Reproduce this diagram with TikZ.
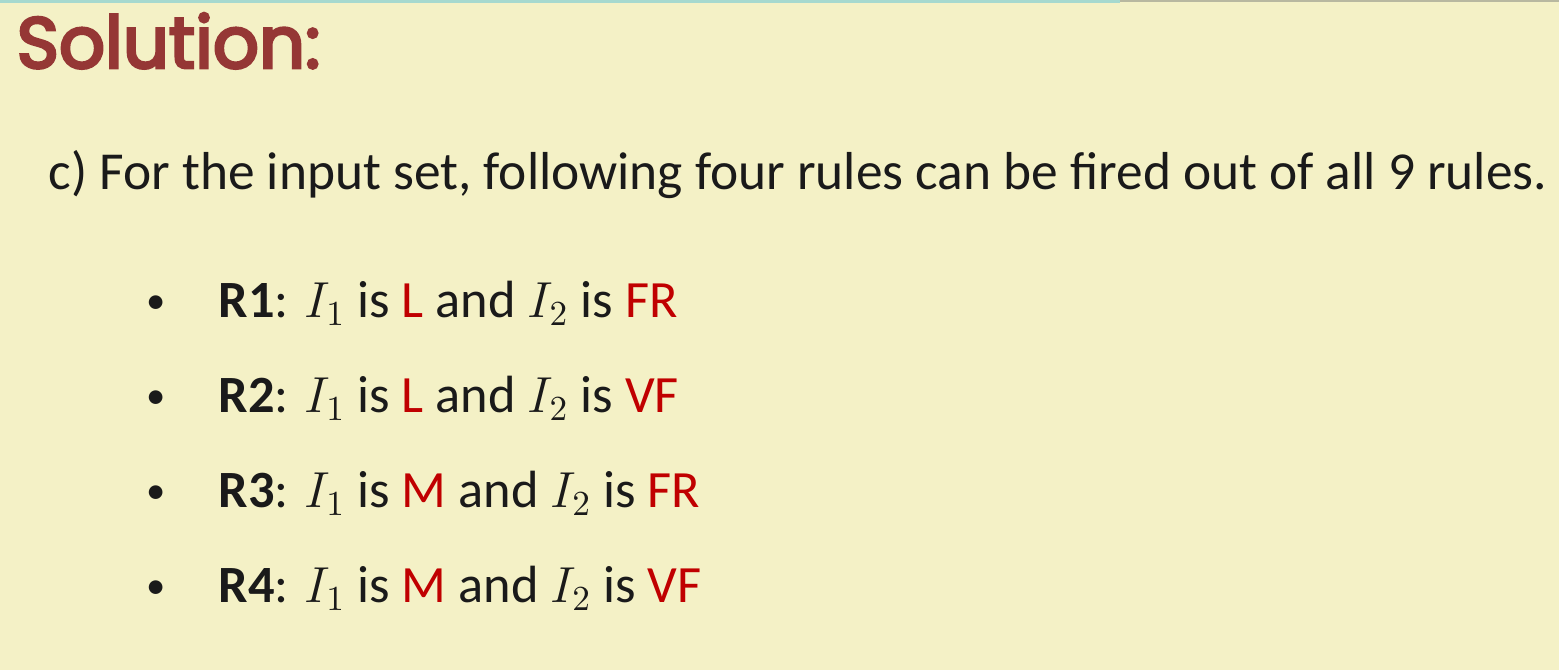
\documentclass[tikz,border=0pt]{standalone}
\usepackage{fontspec}
\setmainfont{Carlito}
\newfontfamily\titlefont[FakeBold=4]{Poppins}
\definecolor{bg}{HTML}{F4F1C6}
\definecolor{ttl}{HTML}{953735}
\definecolor{rd}{HTML}{C00000}
\definecolor{txt}{HTML}{1A1A1A}
\definecolor{topteal}{HTML}{A6D9CF}
\definecolor{topgray}{HTML}{B8B8A0}
\tikzset{
  body/.style={anchor=base west, inner sep=0pt, text=txt, font=\fontsize{15.2pt}{18pt}\selectfont},
  rule/.style={anchor=base west, inner sep=0pt, text=txt, font=\fontsize{14.9pt}{18pt}\selectfont},
  bulletmark/.style={anchor=base west, inner sep=0pt, text=txt, font=\fontsize{11pt}{13pt}\selectfont},
  titletext/.style={anchor=base west, inner sep=0pt, text=ttl, font=\titlefont\fontsize{20.5pt}{24pt}\selectfont}
}
\newcommand{\rc}[1]{\textcolor{rd}{#1}}
\begin{document}
\begin{tikzpicture}[x=0.1mm,y=-0.1mm]
\useasboundingbox (0,0) rectangle (1559,670);
\fill[bg] (0,0) rectangle (1559,670);
\fill[topteal] (0,0) rectangle (1120,3);
\fill[topgray] (1120,0) rectangle (1559,2);
\node[titletext] (title) at (16,68) {Solution:};
\node[body] (intro) at (48,190) {c) For the input set, following four rules can be fired out of all 9 rules.};
\node[bulletmark] (b1) at (146,314) {•};
\node[rule] (r1) at (218,318) {\textbf{R1}: $I_1$ is \rc{L} and $I_2$ is \rc{FR}};
\node[bulletmark] (b2) at (146,409) {•};
\node[rule] (r2) at (218,413) {\textbf{R2}: $I_1$ is \rc{L} and $I_2$ is \rc{VF}};
\node[bulletmark] (b3) at (146,504) {•};
\node[rule] (r3) at (218,508) {\textbf{R3}: $I_1$ is \rc{M} and $I_2$ is \rc{FR}};
\node[bulletmark] (b4) at (146,599) {•};
\node[rule] (r4) at (218,603) {\textbf{R4}: $I_1$ is \rc{M} and $I_2$ is \rc{VF}};
\end{tikzpicture}
\end{document}
